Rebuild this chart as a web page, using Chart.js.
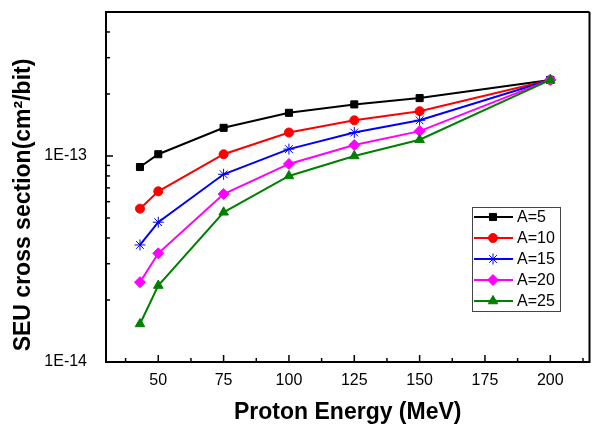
<!DOCTYPE html>
<html>
<head>
<meta charset="utf-8">
<script src="https://cdn.jsdelivr.net/npm/chart.js@4"></script>
<style>
html, body { margin: 0; padding: 0; overflow: hidden; background: #fff; }
#wrap { position: relative; width: 596px; height: 426px; }
</style>
</head>
<body>
<div id="wrap"><canvas id="chart"></canvas></div>
<script>
// proton energy (MeV)
const energies = [43, 50, 75, 100, 125, 150, 200];
const seriesLabels = ['A=5', 'A=10', 'A=15', 'A=20', 'A=25'];
// SEU cross section (cm^2/bit)
const a5  = [8.84e-14, 1.02e-13, 1.37e-13, 1.62e-13, 1.78e-13, 1.91e-13, 2.34e-13];
const a10 = [5.55e-14, 6.74e-14, 1.02e-13, 1.30e-13, 1.49e-13, 1.65e-13, 2.34e-13];
const a15 = [3.70e-14, 4.77e-14, 8.15e-14, 1.08e-13, 1.30e-13, 1.49e-13, 2.34e-13];
const a20 = [2.44e-14, 3.37e-14, 6.54e-14, 9.15e-14, 1.13e-13, 1.32e-13, 2.34e-13];
const a25 = [1.53e-14, 2.35e-14, 5.33e-14, 8.00e-14, 1.00e-13, 1.20e-13, 2.34e-13];
const xMajorTicks = [50, 75, 100, 125, 150, 175, 200];
const yTickLabels = { '-14': '1E-14', '-13': '1E-13' };

const FONT = "'Liberation Sans', Arial, sans-serif";
const colors = ['#000000', '#ff0000', '#0000ff', '#ff00ff', '#008000'];
const markers = ['rect', 'circle', 'star', 'rectRot', 'triangle'];
const radii = [5, 4.5, 5.5, 5.5, 5.5];
const allSeries = [a5, a10, a15, a20, a25];

function isDecade(v) {
    const l = Math.log10(v);
    return Math.abs(l - Math.round(l)) < 1e-6;
}

const datasets = allSeries.map((vals, i) => ({
    label: seriesLabels[i],
    data: energies.map((e, j) => ({ x: e, y: vals[j] })),
    borderColor: colors[i],
    backgroundColor: colors[i],
    borderWidth: 2,
    pointStyle: markers[i],
    pointRadius: radii[i],
    pointBorderWidth: 1,
    order: allSeries.length - i,
    tension: 0
}));

// axes box, inward ticks, legend and y title
const framePlugin = {
    id: 'frame',
    afterDatasetsDraw(chart) {
        const ctx = chart.ctx;
        const a = chart.chartArea;
        const xs = chart.scales.x, ys = chart.scales.y;
        ctx.save();
        ctx.strokeStyle = '#000';
        ctx.lineWidth = 1.5;
        xs.ticks.forEach(t => {
            const px = xs.getPixelForValue(t.value);
            const len = xMajorTicks.includes(t.value) ? 7 : 4;
            ctx.beginPath();
            ctx.moveTo(px, a.bottom);
            ctx.lineTo(px, a.bottom - len);
            ctx.stroke();
        });
        ys.ticks.forEach(t => {
            const py = ys.getPixelForValue(t.value);
            const len = isDecade(t.value) ? 7 : 4;
            ctx.beginPath();
            ctx.moveTo(a.left, py);
            ctx.lineTo(a.left + len, py);
            ctx.stroke();
        });
        ctx.lineWidth = 2;
        ctx.beginPath();
        ctx.moveTo(a.right, a.top);
        ctx.lineTo(a.left, a.top);
        ctx.lineTo(a.left, a.bottom);
        ctx.lineTo(a.right, a.bottom);
        ctx.lineTo(a.right, a.top);
        ctx.stroke();

        // legend
        const lx = 472, ly = 207, lw = 88, lh = 104;
        ctx.fillStyle = '#fff';
        ctx.fillRect(lx, ly, lw, lh);
        ctx.lineWidth = 1;
        ctx.strokeStyle = '#444';
        ctx.strokeRect(lx + 0.5, ly + 0.5, lw, lh);
        chart.data.datasets.forEach((ds, i) => {
            const y = 217 + i * 21;
            ctx.strokeStyle = ds.borderColor;
            ctx.lineWidth = 2;
            ctx.beginPath();
            ctx.moveTo(474, y);
            ctx.lineTo(513, y);
            ctx.stroke();
            ctx.lineWidth = 1;
            ctx.fillStyle = ds.backgroundColor;
            Chart.helpers.drawPoint(ctx, { pointStyle: ds.pointStyle, radius: ds.pointRadius, borderWidth: 1, rotation: 0 }, 493, y);
            ctx.fillStyle = '#000';
            ctx.font = '16px ' + FONT;
            ctx.textAlign = 'left';
            ctx.textBaseline = 'middle';
            ctx.fillText(ds.label, 517, y + 1);
        });

        // y title
        ctx.translate(24, 205);
        ctx.rotate(-Math.PI / 2);
        ctx.fillStyle = '#000';
        ctx.font = 'bold 23px ' + FONT;
        ctx.textAlign = 'center';
        ctx.textBaseline = 'middle';
        ctx.fillText('SEU cross section(cm\u00B2/bit)', 0, 0);
        ctx.restore();
    }
};

new Chart(document.getElementById('chart'), {
    type: 'line',
    data: { datasets: datasets },
    options: {
        responsive: true,
        maintainAspectRatio: false,
        animation: false,
        layout: { padding: { left: 0, right: 0, top: 12, bottom: 0 } },
        plugins: { legend: { display: false }, tooltip: { enabled: false } },
        scales: {
            x: {
                type: 'linear',
                min: 30,
                max: 215,
                afterBuildTicks: scale => {
                    const t = [];
                    for (let v = 37.5; v <= 215; v += 12.5) t.push({ value: v });
                    scale.ticks = t;
                },
                afterFit: scale => {
                    scale.height = 64;
                    scale.paddingLeft = 0;
                    scale.paddingRight = 0;
                },
                grid: { display: false, drawTicks: false },
                border: { display: false },
                ticks: {
                    autoSkip: false,
                    maxRotation: 0,
                    padding: 9,
                    color: '#000',
                    font: { family: FONT, size: 16 },
                    callback: v => xMajorTicks.includes(v) ? String(v) : ''
                },
                title: {
                    display: true,
                    text: 'Proton Energy (MeV)',
                    color: '#000',
                    font: { family: FONT, size: 23, weight: 'bold' },
                    padding: { top: 0, bottom: 0 }
                }
            },
            y: {
                type: 'logarithmic',
                min: 1e-14,
                max: 5e-13,
                afterBuildTicks: scale => {
                    const t = [];
                    for (let k = 1; k <= 9; k++) t.push({ value: k * 1e-14 });
                    for (let k = 1; k <= 5; k++) t.push({ value: k * 1e-13 });
                    scale.ticks = t;
                },
                afterFit: scale => {
                    scale.width = 106;
                    scale.paddingTop = 0;
                    scale.paddingBottom = 0;
                },
                grid: { display: false, drawTicks: false },
                border: { display: false },
                ticks: {
                    autoSkip: false,
                    padding: 19,
                    color: '#000',
                    font: { family: FONT, size: 16 },
                    callback: v => isDecade(v) ? (yTickLabels[String(Math.round(Math.log10(v)))] || '') : ''
                }
            }
        }
    },
    plugins: [framePlugin]
});
</script>
</body>
</html>
